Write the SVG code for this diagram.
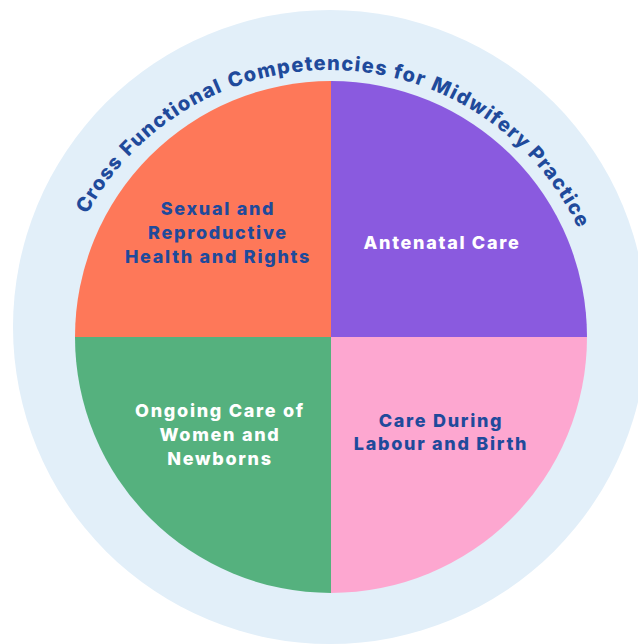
<svg xmlns="http://www.w3.org/2000/svg" width="638" height="644" viewBox="0 0 638 644">
  <style>
    .lbl { font-family: Inter, "Open Sans", "Liberation Sans", sans-serif; font-weight: 800; font-size: 18px; letter-spacing: 1.7px; text-anchor: middle; }
    .dark { fill: #1F4A9B; }
    .light { fill: #FFFFFF; }
    .ring { font-family: Inter, "Open Sans", "Liberation Sans", sans-serif; font-weight: 800; font-size: 20px; letter-spacing: 1.25px; fill: #1F4A9B; }
  </style>
  <defs>
    <path id="arc" d="M 54 345 A 275 275 0 0 1 604 345"/>
  </defs>
  <rect width="638" height="644" fill="#FFFFFF"/>
  <g id="outer-ring">
    <circle cx="330" cy="327" r="317" fill="#E2EFF9"/>
    <text class="ring"><textPath href="#arc" startOffset="136.1">Cross</textPath></text>
    <text class="ring"><textPath href="#arc" startOffset="207">Functional</textPath></text>
    <text class="ring"><textPath href="#arc" startOffset="331">Competencies</textPath></text>
    <text class="ring"><textPath href="#arc" startOffset="495.9">for</textPath></text>
    <text class="ring"><textPath href="#arc" startOffset="535.2">Midwifery</textPath></text>
    <text class="ring"><textPath href="#arc" startOffset="652.5">Practice</textPath></text>
  </g>
  <g id="srhr">
    <path d="M 331 337 L 75 337 A 256 256 0 0 1 331 81 Z" fill="#FE7859"/>
    <text class="lbl dark"><tspan x="218" y="215">Sexual and</tspan><tspan x="218" y="239">Reproductive</tspan><tspan x="218" y="263">Health and Rights</tspan></text>
  </g>
  <g id="antenatal">
    <path d="M 331 337 L 331 81 A 256 256 0 0 1 587 337 Z" fill="#8A5ADF"/>
    <text class="lbl light" x="442" y="249">Antenatal Care</text>
  </g>
  <g id="labour">
    <path d="M 331 337 L 587 337 A 256 256 0 0 1 331 593 Z" fill="#FDA7D0"/>
    <text class="lbl dark"><tspan x="441" y="427">Care During</tspan><tspan x="441" y="450">Labour and Birth</tspan></text>
  </g>
  <g id="ongoing">
    <path d="M 331 337 L 331 593 A 256 256 0 0 1 75 337 Z" fill="#55B17E"/>
    <text class="lbl light"><tspan x="220" y="417">Ongoing Care of</tspan><tspan x="220" y="441">Women and</tspan><tspan x="220" y="465">Newborns</tspan></text>
  </g>
  <g id="connectors"/>
</svg>
